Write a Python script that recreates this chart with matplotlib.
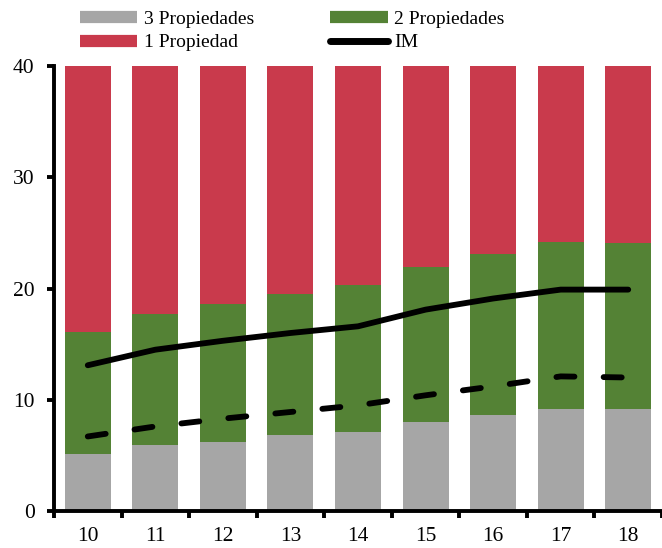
import matplotlib
matplotlib.use("Agg")
import matplotlib.pyplot as plt
from matplotlib.lines import Line2D
import numpy as np

plt.rcParams['font.family'] = ['Liberation Serif', 'DejaVu Serif']

years = ['10', '11', '12', '13', '14', '15', '16', '17', '18']
tres_prop = [5.1, 5.9, 6.2, 6.8, 7.1, 8.0, 8.6, 9.2, 9.2]
dos_prop_top = [16.1, 17.7, 18.6, 19.5, 20.3, 21.9, 23.1, 24.2, 24.1]
total = [40, 40, 40, 40, 40, 40, 40, 40, 40]
im = [13.1, 14.5, 15.3, 16.0, 16.6, 18.1, 19.1, 19.9, 19.9]
im_dashed = [6.7, 7.6, 8.3, 8.9, 9.5, 10.4, 11.2, 12.1, 12.0]

c_grey = '#A6A6A6'
c_green = '#548235'
c_red = '#C93A4C'

dos_prop = np.array(dos_prop_top) - np.array(tres_prop)
un_prop = np.array(total) - np.array(dos_prop_top)

fig = plt.figure(figsize=(6.62, 5.48), dpi=100)
ax = fig.add_axes([54 / 662, 37 / 548, 608 / 662, 445 / 548])

x = np.arange(len(years))
w = 0.68
ax.bar(x, tres_prop, w, color=c_grey, zorder=2)
ax.bar(x, dos_prop, w, bottom=tres_prop, color=c_green, zorder=2)
ax.bar(x, un_prop, w, bottom=dos_prop_top, color=c_red, zorder=2)

ax.plot(x, im, color='black', lw=4.2, solid_capstyle='round', solid_joinstyle='round', zorder=3)
ax.plot(x, im_dashed, color='black', lw=4.2, dashes=(3.1, 5.0),
        dash_capstyle='round', zorder=3)

ax.set_xlim(-0.5, -0.5 + 608 / 69)
ax.set_ylim(0, 40)
ax.set_yticks([0, 10, 20, 30, 40])
ax.set_xticks(np.arange(len(years) + 1) - 0.5)
ax.set_xticklabels([])
ax.set_xticks(x, minor=True)
ax.set_xticklabels(years, minor=True)
ax.tick_params(axis='x', which='minor', length=0, pad=11.5, labelsize=15.5)
ax.tick_params(axis='x', which='major', direction='out', length=5, width=2.8)
ax.tick_params(axis='y', direction='out', length=5, width=2.8, pad=9, labelsize=15.5)

for s in ['top', 'right']:
    ax.spines[s].set_visible(False)
for s in ['left', 'bottom']:
    ax.spines[s].set_linewidth(2.8)
    ax.spines[s].set_color('black')

handles = [
    Line2D([], [], color=c_grey, lw=8.8, solid_capstyle='butt'),
    Line2D([], [], color=c_red, lw=8.8, solid_capstyle='butt'),
    Line2D([], [], color=c_green, lw=8.8, solid_capstyle='butt'),
    Line2D([], [], color='black', lw=5.0, solid_capstyle='round'),
]
labels = ['3 Propiedades', '1 Propiedad', '2 Propiedades', 'IM']
fig.legend(handles, labels, ncol=2, loc='upper left',
           bbox_to_anchor=(80 / 662, 1 - 10 / 548), frameon=False,
           fontsize=14, handlelength=2.95, handletextpad=0.35,
           columnspacing=3.9, labelspacing=0.32, borderpad=0, borderaxespad=0)

fig.savefig('out.png', dpi=100)
